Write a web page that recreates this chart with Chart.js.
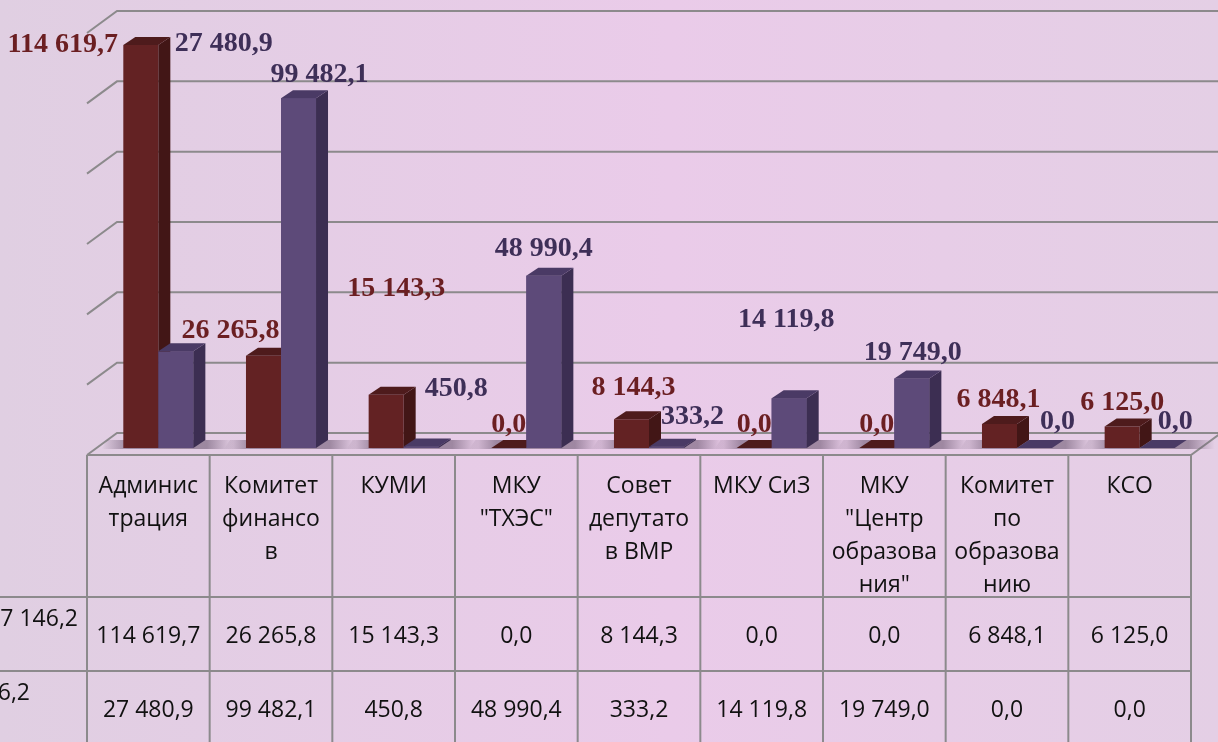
<!DOCTYPE html>
<html>
<head>
<meta charset="utf-8">
<script src="https://cdn.jsdelivr.net/npm/chart.js@4.4.1/dist/chart.umd.min.js"></script>
<style>
  html, body { margin: 0; padding: 0; background: #e6cde6; }
  #wrap { width: 1218px; height: 742px; position: relative; }
</style>
</head>
<body>
<div id="wrap"><canvas id="c" width="1218" height="742"></canvas></div>
<script>
// ---------- DATA ----------
const categories = [
  ["Админис", "трация"],
  ["Комитет", "финансо", "в"],
  ["КУМИ"],
  ["МКУ", "\"ТХЭС\""],
  ["Совет", "депутато", "в ВМР"],
  ["МКУ СиЗ"],
  ["МКУ", "\"Центр", "образова", "ния\""],
  ["Комитет", "по", "образова", "нию"],
  ["КСО"]
];
const series1Values = [114619.7, 26265.8, 15143.3, 0.0, 8144.3, 0.0, 0.0, 6848.1, 6125.0];
const series2Values = [27480.9, 99482.1, 450.8, 48990.4, 333.2, 14119.8, 19749.0, 0.0, 0.0];
const seriesNames = ["177 146,2", "210 606,2"];
const yMin = 0;
const yMax = 120000;
const yStep = 20000;

// ---------- STYLE / LAYOUT ----------
const frontColors = ["#632223", "#5d4a79"];
const sideColors  = ["#421616", "#3c2e52"];
const topColors   = ["#4e1b1c", "#4a3a65"];
const labelColors = ["#6b1f22", "#3e2f58"];
const gridColor = "#8c8a8c";
const BAR_DX = 12, BAR_DY = 8;          // bar depth projection
const WALL_DX = 30, WALL_DY = 22;       // floor depth projection
const PERSPECTIVE_SHIFT = 10;           // bars sit shifted right of table columns
// label nudges relative to default position (centered above bar)
const labelNudge = [
  [[-78, 24], [-33, -1], [10, -82], [0, 0], [2, -8], [0, 0], [0, 0], [-1, 0], [0, 0]],
  [[48, -284], [21, 0], [35, -34], [0, -3], [26, -6], [-3, -55], [1, -2], [23, -3], [18, -3]]
];
const rowLabelRight = [78, 30];
const LABEL_FONT = "bold 28px 'Liberation Serif', 'Times New Roman', serif";
const TABLE_FONT = "23px 'Open Sans', 'Noto Sans', sans-serif";

function fmt(v) {
  const parts = v.toFixed(1).split(".");
  const intPart = parts[0].replace(/\B(?=(\d{3})+(?!\d))/g, " ");
  return intPart + "," + parts[1];
}

const threeD = {
  id: "threeD",
  beforeDraw(chart) {
    const ctx = chart.ctx;
    const W = chart.width, H = chart.height;
    const xs = chart.scales.x, ys = chart.scales.y;
    // background
    const g = ctx.createLinearGradient(0, 0, W, 0);
    g.addColorStop(0, "#e0cfe2");
    g.addColorStop(0.55, "#eacbe9");
    g.addColorStop(1, "#e4cfe5");
    ctx.save();
    ctx.fillStyle = g;
    ctx.fillRect(0, 0, W, H);

    const n = categories.length;
    const step = xs.getPixelForValue(1) - xs.getPixelForValue(0);
    const tableLeft = xs.getPixelForValue(0) - PERSPECTIVE_SHIFT - step / 2;
    const tableRight = xs.getPixelForValue(n - 1) - PERSPECTIVE_SHIFT + step / 2;
    const base = ys.getPixelForValue(0);
    const floorFront = base + 7;

    // back wall gridlines + left slants
    ctx.strokeStyle = gridColor;
    ctx.lineWidth = 2;
    for (let v = yMin; v <= yMax + 1e-6; v += yStep) {
      const front = ys.getPixelForValue(v) + 7;
      const back = front - WALL_DY;
      ctx.beginPath();
      ctx.moveTo(tableLeft, front);
      ctx.lineTo(tableLeft + WALL_DX, back);
      ctx.lineTo(W + 5, back);
      ctx.stroke();
    }
    // floor front edge and right slant
    ctx.beginPath();
    ctx.moveTo(tableLeft, floorFront);
    ctx.lineTo(tableRight, floorFront);
    ctx.lineTo(tableRight + WALL_DX, floorFront - WALL_DY);
    ctx.stroke();

    // floor shadows under bar groups
    const m0 = chart.getDatasetMeta(0), m1 = chart.getDatasetMeta(1);
    for (let i = 0; i < n; i++) {
      const a = m0.data[i], b = m1.data[i];
      const x0 = a.x - a.width / 2 - 22, x1 = b.x + b.width / 2 + BAR_DX + 28;
      const sg = ctx.createLinearGradient(x0, 0, x1, 0);
      sg.addColorStop(0, "rgba(110,90,115,0)");
      sg.addColorStop(0.2, "rgba(110,90,115,0.6)");
      sg.addColorStop(0.8, "rgba(110,90,115,0.6)");
      sg.addColorStop(1, "rgba(110,90,115,0)");
      ctx.fillStyle = sg;
      ctx.beginPath();
      ctx.moveTo(x0, base + 1);
      ctx.lineTo(x1, base + 1);
      ctx.lineTo(x1 + 6, base - 8);
      ctx.lineTo(x0 + 6, base - 8);
      ctx.closePath();
      ctx.fill();
    }

    // data table
    ctx.strokeStyle = gridColor;
    ctx.lineWidth = 2;
    const headerTop = floorFront;
    const row1Top = headerTop + 142;
    const rowH = 74;
    for (let i = 0; i <= n; i++) {
      const x = tableLeft + i * step;
      ctx.beginPath();
      ctx.moveTo(x, headerTop);
      ctx.lineTo(x, H + 5);
      ctx.stroke();
    }
    for (let r = 0; r < 2; r++) {
      const y = row1Top + r * rowH;
      ctx.beginPath();
      ctx.moveTo(0, y);
      ctx.lineTo(tableRight, y);
      ctx.stroke();
    }
    ctx.fillStyle = "#111";
    ctx.font = TABLE_FONT;
    ctx.textAlign = "center";
    ctx.textBaseline = "alphabetic";
    for (let i = 0; i < n; i++) {
      const cx = xs.getPixelForValue(i) - PERSPECTIVE_SHIFT;
      categories[i].forEach((line, k) => {
        ctx.fillText(line, cx, headerTop + 38 + k * 33);
      });
      ctx.fillText(fmt(series1Values[i]), cx, row1Top + 46);
      ctx.fillText(fmt(series2Values[i]), cx, row1Top + rowH + 46);
    }
    ctx.textAlign = "right";
    seriesNames.forEach((s, r) => {
      ctx.fillText(s, rowLabelRight[r], row1Top + r * rowH + 29);
    });
    ctx.restore();
  },
  afterDatasetsDraw(chart) {
    const ctx = chart.ctx;
    const metas = [chart.getDatasetMeta(0), chart.getDatasetMeta(1)];
    ctx.save();
    for (let i = 0; i < categories.length; i++) {
      metas.forEach((meta, d) => {
        const el = meta.data[i];
        const x0 = el.x - el.width / 2, x1 = el.x + el.width / 2;
        const top = Math.min(el.y, el.base), bot = el.base;
        if (d === 1) {
          ctx.fillStyle = frontColors[d];
          ctx.fillRect(x0, top, x1 - x0, bot - top);
        }
        // side
        ctx.fillStyle = sideColors[d];
        ctx.beginPath();
        ctx.moveTo(x1, top);
        ctx.lineTo(x1 + BAR_DX, top - BAR_DY);
        ctx.lineTo(x1 + BAR_DX, bot - BAR_DY);
        ctx.lineTo(x1, bot);
        ctx.closePath();
        ctx.fill();
        // top
        ctx.fillStyle = topColors[d];
        ctx.beginPath();
        ctx.moveTo(x0, top);
        ctx.lineTo(x1, top);
        ctx.lineTo(x1 + BAR_DX, top - BAR_DY);
        ctx.lineTo(x0 + BAR_DX, top - BAR_DY);
        ctx.closePath();
        ctx.fill();
      });
    }
    // value labels
    ctx.font = LABEL_FONT;
    ctx.textAlign = "center";
    ctx.textBaseline = "alphabetic";
    metas.forEach((meta, d) => {
      const vals = d === 0 ? series1Values : series2Values;
      meta.data.forEach((el, i) => {
        const [dx, dy] = labelNudge[d][i];
        const cx = el.x + dx;
        const cy = Math.min(el.y, el.base) - 26 + dy;
        ctx.fillStyle = labelColors[d];
        ctx.fillText(fmt(vals[i]), cx, cy + 9.5);
      });
    });
    ctx.restore();
  }
};

new Chart(document.getElementById("c"), {
  type: "bar",
  data: {
    labels: categories,
    datasets: [
      { label: seriesNames[0], data: series1Values, backgroundColor: frontColors[0], borderWidth: 0 },
      { label: seriesNames[1], data: series2Values, backgroundColor: frontColors[1], borderWidth: 0 }
    ]
  },
  options: {
    responsive: false,
    animation: false,
    devicePixelRatio: 1,
    layout: { padding: { left: 97, right: 17, top: 26, bottom: 294 } },
    datasets: { bar: { categoryPercentage: 0.571, barPercentage: 1.0 } },
    scales: {
      x: { display: false },
      y: { display: false, min: yMin, max: yMax }
    },
    plugins: { legend: { display: false }, tooltip: { enabled: false } }
  },
  plugins: [threeD]
});
</script>
</body>
</html>
